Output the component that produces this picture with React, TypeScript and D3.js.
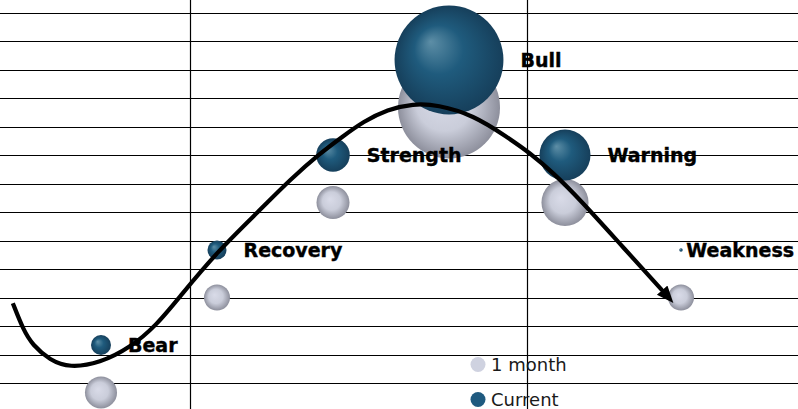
import React, { useEffect, useRef } from "react";
import * as d3 from "d3";

const categories = ["Bear", "Recovery", "Strength", "Bull", "Warning", "Weakness"];
const xPos = [1, 2, 3, 4, 5, 6];
const currentLevel = [1, 2, 3, 4, 3, 2];
const monthLevel = [0.5, 1.5, 2.5, 3.5, 2.5, 1.5];
const currentSize = [3.3, 3.0, 9.3, 98, 21.5, 0.1];
const monthSize = [8.5, 5.6, 9.0, 86, 18.3, 5.6];
const gridX = [1.767, 4.672];
const gridY = [0.6, 0.9, 1.2, 1.5, 1.8, 2.1, 2.4, 2.7, 3.0, 3.3, 3.6, 3.9, 4.2, 4.5];
const cycleX = [0.24, 0.33, 0.41, 0.56, 0.73, 0.99, 1.25, 1.48, 1.68, 2.0, 2.37, 2.63, 2.89, 3.09, 3.26, 3.47, 3.69, 3.9, 4.21, 4.5, 4.7, 4.9, 5.13, 5.47, 5.85, 5.9];
const cycleY = [1.44, 1.16, 1.0, 0.84, 0.76, 0.81, 0.97, 1.21, 1.51, 1.98, 2.42, 2.74, 3.02, 3.2, 3.35, 3.48, 3.54, 3.53, 3.42, 3.19, 3.02, 2.81, 2.53, 2.07, 1.56, 1.49];
const legendLabels = ["1 month", "Current"];

const W = 798;
const H = 409;

export default function App() {
  const ref = useRef<SVGSVGElement | null>(null);

  useEffect(() => {
    const svg = d3.select(ref.current);
    svg.selectAll("*").remove();

    const x = d3.scaleLinear().domain([0, 7]).range([-15, 797]);
    const y = d3.scaleLinear().domain([0, 4.6]).range([440, 440 - 4.6 * 95]);
    const r = d3.scaleSqrt().domain([0, 100]).range([0, 55]);

    const defs = svg.append("defs");
    const gCur = defs.append("radialGradient").attr("id", "gcur")
      .attr("cx", "50%").attr("cy", "50%").attr("r", "50%").attr("fx", "33%").attr("fy", "33%");
    gCur.append("stop").attr("offset", "0%").attr("stop-color", "#5d8ea6");
    gCur.append("stop").attr("offset", "45%").attr("stop-color", "#1f5b7d");
    gCur.append("stop").attr("offset", "100%").attr("stop-color", "#163f5b");
    const gMon = defs.append("radialGradient").attr("id", "gmon")
      .attr("cx", "50%").attr("cy", "50%").attr("r", "50%").attr("fx", "40%").attr("fy", "40%");
    gMon.append("stop").attr("offset", "0%").attr("stop-color", "#d9dbe8");
    gMon.append("stop").attr("offset", "55%").attr("stop-color", "#cacdda");
    gMon.append("stop").attr("offset", "100%").attr("stop-color", "#8d8f9c");

    defs.append("marker").attr("id", "arrow")
      .attr("markerUnits", "userSpaceOnUse")
      .attr("markerWidth", 20).attr("markerHeight", 16)
      .attr("viewBox", "0 0 20 16")
      .attr("refX", 11).attr("refY", 7)
      .attr("orient", "auto")
      .append("path").attr("d", "M0,0 L17,7 L0,14 Z").attr("fill", "#000");

    svg.append("rect").attr("width", W).attr("height", H).attr("fill", "#fff");

    const grid = svg.append("g").attr("stroke", "#000").attr("stroke-width", 1.2);
    grid.selectAll("line.h").data(gridY).join("line").attr("class", "h")
      .attr("x1", 0).attr("x2", W)
      .attr("y1", (d) => Math.round(y(d)) + 0.5).attr("y2", (d) => Math.round(y(d)) + 0.5);
    grid.selectAll("line.v").data(gridX).join("line").attr("class", "v")
      .attr("y1", 0).attr("y2", H)
      .attr("x1", (d) => Math.round(x(d)) + 0.5).attr("x2", (d) => Math.round(x(d)) + 0.5);

    const idx = d3.range(categories.length);
    svg.append("g").selectAll("circle").data(idx).join("circle")
      .attr("cx", (i) => x(xPos[i])).attr("cy", (i) => y(monthLevel[i]))
      .attr("r", (i) => r(monthSize[i])).attr("fill", "url(#gmon)");
    svg.append("g").selectAll("circle").data(idx).join("circle")
      .attr("cx", (i) => x(xPos[i])).attr("cy", (i) => y(currentLevel[i]))
      .attr("r", (i) => r(currentSize[i])).attr("fill", "url(#gcur)");

    const pts: [number, number][] = cycleX.map((v, i) => [x(v), y(cycleY[i])]);
    svg.append("path")
      .attr("d", d3.line().curve(d3.curveBasis)(pts))
      .attr("fill", "none").attr("stroke", "#000").attr("stroke-width", 4.2)
      .attr("marker-end", "url(#arrow)");

    const labels = svg.append("g")
      .attr("font-family", "'DejaVu Sans', Verdana, sans-serif")
      .attr("font-weight", "bold").attr("font-size", 19).attr("fill", "#000")
      .attr("stroke", "#000").attr("stroke-width", 0.4);
    idx.forEach((i) => {
      const cx = x(xPos[i]);
      const cy = y(currentLevel[i]);
      const t = labels.append("text").text(categories[i]).attr("y", cy + 7);
      const w = (t.node() as SVGTextElement).getComputedTextLength();
      const lx = Math.min(cx + r(currentSize[i]) + 17, W - 4 - w);
      t.attr("x", lx);
    });

    const legend = svg.append("g")
      .attr("font-family", "'DejaVu Sans', Verdana, sans-serif")
      .attr("font-size", 18).attr("fill", "#1a1a1a");
    const legendFill = ["#cfd2e0", "#1f5a7f"];
    legendLabels.forEach((lab, i) => {
      const cy = 364.5 + i * 35;
      legend.append("circle").attr("cx", 478).attr("cy", cy).attr("r", 7.5).attr("fill", legendFill[i]);
      legend.append("text").attr("x", 491).attr("y", cy + 6.5).text(lab);
    });
  }, []);

  return (
    <svg
      ref={ref}
      width={W}
      height={H}
      style={{ position: "absolute", left: 0, top: 0, display: "block" }}
    />
  );
}
